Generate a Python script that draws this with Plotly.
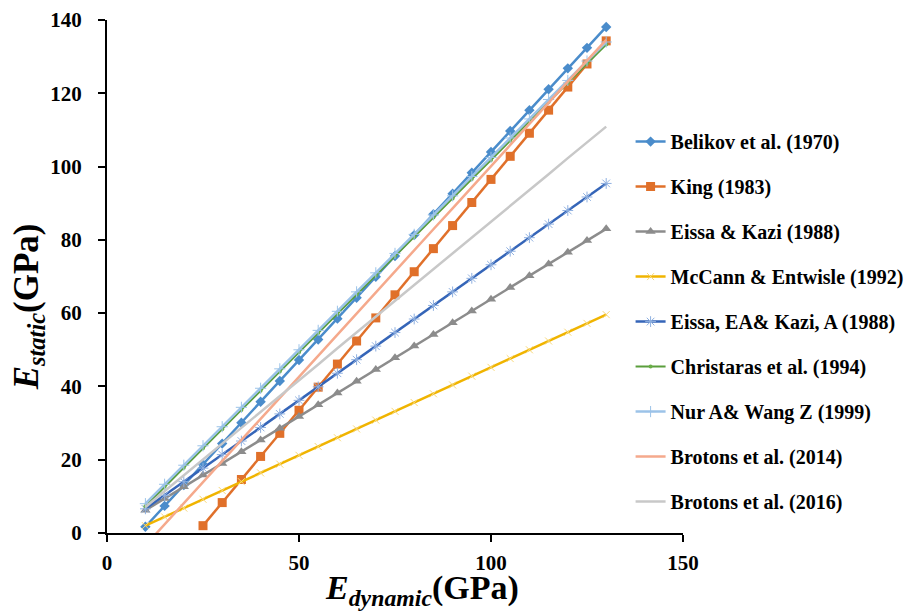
import plotly.graph_objects as go

x_all = [10, 15, 20, 25, 30, 35, 40, 45, 50, 55, 60, 65, 70, 75, 80, 85, 90, 95, 100, 105, 110, 115, 120, 125, 130]
x_king = [25, 30, 35, 40, 45, 50, 55, 60, 65, 70, 75, 80, 85, 90, 95, 100, 105, 110, 115, 120, 125, 130]

belikov = [1.7, 7.4, 13.1, 18.7, 24.4, 30.1, 35.8, 41.5, 47.2, 52.8, 58.5, 64.2, 69.9, 75.6, 81.3, 87.0, 92.6, 98.3, 104.0, 109.7, 115.4, 121.1, 126.8, 132.4, 138.1]
king = [2.0, 8.3, 14.6, 20.9, 27.2, 33.5, 39.8, 46.1, 52.4, 58.7, 65.0, 71.3, 77.6, 83.9, 90.2, 96.5, 102.8, 109.1, 115.4, 121.7, 128.0, 134.3]
eissa_kazi = [6.2, 9.4, 12.6, 15.8, 19.0, 22.2, 25.4, 28.6, 31.8, 35.0, 38.2, 41.4, 44.6, 47.8, 51.0, 54.2, 57.4, 60.6, 63.8, 67.0, 70.2, 73.4, 76.6, 79.8, 83.0]
mccann = [2.0, 4.4, 6.8, 9.2, 11.6, 14.0, 16.4, 18.8, 21.2, 23.6, 26.0, 28.4, 30.8, 33.2, 35.6, 38.0, 40.4, 42.8, 45.2, 47.6, 50.0, 52.4, 54.8, 57.2, 59.6]
eissa_ea = [6.6, 10.3, 14.0, 17.7, 21.4, 25.1, 28.8, 32.5, 36.2, 39.9, 43.6, 47.3, 51.0, 54.7, 58.4, 62.1, 65.8, 69.5, 73.2, 76.9, 80.6, 84.3, 88.0, 91.7, 95.4]
christaras = [7.3, 12.6, 17.8, 23.1, 28.3, 33.6, 38.8, 44.1, 49.3, 54.6, 59.8, 65.1, 70.3, 75.6, 80.8, 86.1, 91.3, 96.6, 101.8, 107.1, 112.3, 117.6, 122.8, 128.1, 133.3]
nur_wang = [8.0, 13.3, 18.5, 23.8, 29.0, 34.3, 39.5, 44.8, 50.0, 55.3, 60.5, 65.8, 71.0, 76.3, 81.5, 86.8, 92.0, 97.3, 102.5, 107.8, 113.0, 118.3, 123.5, 128.8, 134.0]
brotons14 = [-3.4, 2.4, 8.1, 13.9, 19.6, 25.4, 31.1, 36.9, 42.6, 48.4, 54.1, 59.9, 65.6, 71.4, 77.1, 82.9, 88.6, 94.4, 100.1, 105.9, 111.6, 117.4, 123.1, 128.9, 134.6]
brotons16 = [7.1, 11.4, 15.8, 20.1, 24.4, 28.7, 33.1, 37.4, 41.7, 46.0, 50.4, 54.7, 59.0, 63.3, 67.7, 72.0, 76.3, 80.6, 85.0, 89.3, 93.6, 97.9, 102.3, 106.6, 110.9]

x_ticks = [0, 50, 100, 150]
y_ticks = [0, 20, 40, 60, 80, 100, 120, 140]

series = [
    ("Belikov et al. (1970)", x_all, belikov, "#4a8ccb", 2.5, dict(symbol="diamond", size=8, color="#4a8ccb")),
    ("King (1983)", x_king, king, "#e0702a", 2.5, dict(symbol="square", size=9, color="#e0702a")),
    ("Eissa & Kazi (1988)", x_all, eissa_kazi, "#8c8c8c", 2.5, dict(symbol="triangle-up", size=9, color="#8c8c8c")),
    ("McCann & Entwisle (1992)", x_all, mccann, "#f0b400", 2.5, dict(symbol="x-thin", size=7, color="#f8d878", line=dict(width=1, color="#f8d878"))),
    ("Eissa, EA& Kazi, A (1988)", x_all, eissa_ea, "#3565b8", 2.5, dict(symbol="asterisk", size=9, color="#8fb0e0", line=dict(width=1, color="#8fb0e0"))),
    ("Christaras et al. (1994)", x_all, christaras, "#5a9e3c", 2.0, dict(symbol="circle", size=4, color="#6aae48")),
    ("Nur A& Wang Z (1999)", x_all, nur_wang, "#9cc3e8", 2.5, dict(symbol="cross-thin", size=8, color="#9cc3e8", line=dict(width=1, color="#9cc3e8"))),
    ("Brotons et al. (2014)", x_all, brotons14, "#f5a98c", 2.5, None),
    ("Brotons et al. (2016)", x_all, brotons16, "#c8c8c8", 2.5, None),
]

fig = go.Figure()
for i, (name, xs, ys, color, lw, marker) in enumerate(series):
    kw = dict(mode="lines+markers", marker=marker) if marker else dict(mode="lines")
    fig.add_trace(go.Scatter(x=xs, y=ys, name=f"<b>{name}</b>", legendgroup=f"g{i}",
                             line=dict(color=color, width=lw), **kw))

serif = "Liberation Serif"
tick_font = dict(family=serif, size=21, color="black")

fig.update_layout(
    width=905, height=614,
    margin=dict(l=107, r=222, t=20, b=81, autoexpand=False),
    plot_bgcolor="white", paper_bgcolor="white",
    showlegend=True,
    legend=dict(x=0.909, y=0.801, xanchor="left", yanchor="top",
                font=dict(family=serif, size=20, color="black"),
                tracegroupgap=16, bgcolor="rgba(0,0,0,0)", itemwidth=30),
    xaxis=dict(range=[0, 150], tickvals=x_ticks, ticktext=[f"<b>{v}</b>" for v in x_ticks],
               showgrid=False, zeroline=False, automargin=False,
               showline=True, linecolor="black", linewidth=2, ticks="outside", ticklen=7,
               tickcolor="black", tickwidth=2, tickfont=tick_font, ticklabelstandoff=3),
    yaxis=dict(range=[0, 140], tickvals=y_ticks, ticktext=[f"<b>{v}</b>" for v in y_ticks],
               showgrid=False, zeroline=False, automargin=False,
               showline=True, linecolor="black", linewidth=2, ticks="outside", ticklen=7,
               tickcolor="black", tickwidth=2, tickfont=tick_font, ticklabelstandoff=12),
    annotations=[
        dict(text="<b><i>E</i><sub><i>dynamic</i></sub>(GPa)</b>", xref="paper", yref="paper",
             x=0.547, y=-0.112, xanchor="center", yanchor="middle", showarrow=False,
             font=dict(family=serif, size=34, color="black")),
        dict(text="<b><i>E</i><sub><i>static</i></sub>(GPa)</b>", xref="paper", yref="paper",
             x=-0.137, y=0.44, xanchor="center", yanchor="middle", showarrow=False, textangle=-90,
             font=dict(family=serif, size=35, color="black")),
    ],
)

fig.write_html("out.html")
